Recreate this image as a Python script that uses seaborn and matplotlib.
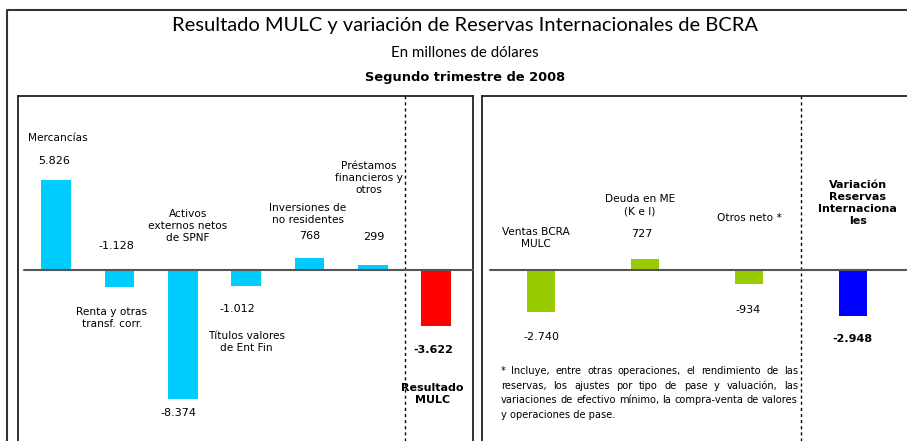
import matplotlib
matplotlib.use("Agg")
import matplotlib.pyplot as plt
from matplotlib.lines import Line2D
import seaborn as sns
import pandas as pd

# ---------------- data ----------------
left_categories = ["Mercancías", "Renta y otras transf. corr.", "Activos externos netos de SPNF",
                   "Títulos valores de Ent Fin", "Inversiones de no residentes",
                   "Préstamos financieros y otros", "Resultado MULC"]
left_values = [5826, -1128, -8374, -1012, 768, 299, -3622]
left_value_labels = ["5.826", "-1.128", "-8.374", "-1.012", "768", "299", "-3.622"]
left_cat_labels = ["Mercancías", "Renta y otras\ntransf. corr.", "Activos\nexternos netos\nde SPNF",
                   "Títulos valores\nde Ent Fin", "Inversiones de\nno residentes",
                   "Préstamos\nfinancieros y\notros", "Resultado\nMULC"]

right_categories = ["Ventas BCRA MULC", "Deuda en ME (K e I)", "Otros neto *",
                    "Variación Reservas Internacionales"]
right_values = [-2740, 727, -934, -2948]
right_value_labels = ["-2.740", "727", "-934", "-2.948"]
right_cat_labels = ["Ventas BCRA\nMULC", "Deuda en ME\n(K e I)", "Otros neto *",
                    "Variación\nReservas\nInternaciona\nles"]

title = "Resultado MULC y variación de Reservas Internacionales de BCRA"
subtitle = "En millones de dólares"
period = "Segundo trimestre de 2008"
footnote_lines = ["* Incluye, entre otras operaciones, el rendimiento de las",
                  "reservas, los ajustes por tipo de pase y valuación, las",
                  "variaciones de efectivo mínimo, la compra-venta de valores",
                  "y operaciones de pase."]

# ---------------- styles / layout ----------------
CYAN, RED, GREEN, BLUE = "#00CCFF", "#FF0000", "#99CC00", "#0000FF"
left_colors = [CYAN] * 6 + [RED]
right_colors = [GREEN] * 3 + [BLUE]

# label positions (x in category units, y in data units)
left_cat_pos = [(0.03, 8540), (0.88, -3106), (2.08, 2847), (3.0, -4658), (3.97, 3623), (4.93, 5952), (5.94, -8023)]
left_val_pos = [(-0.03, 7052), (0.96, 1553), (1.93, -9252), (2.86, -2523), (4.01, 2200), (5.01, 2135), (5.96, -5176)]
left_bold = [False] * 6 + [True]
right_cat_pos = [(-0.05, 2103), (0.95, 4206), (2.0, 3364), (3.05, 4335)]
right_val_pos = [(0.0, -4335), (0.97, 2329), (1.99, -2588), (3.0, -4464)]
right_bold = [False] * 3 + [True]

sns.set_theme(style="white")
plt.rcParams["font.family"] = ["DejaVu Sans"]
plt.rcParams["text.color"] = "black"

W, H = 907, 441
fig = plt.figure(figsize=(W / 100, H / 100), dpi=100)

YLIM = (-11065, 11260)
BODY = 7.6


def fx(px):
    return px / W


def fy(py):
    return (H - py) / H


def setup_axes(ax, xlim, zero_from, vline):
    ax.set_xlim(*xlim)
    ax.set_ylim(*YLIM)
    ax.set_xticks([])
    ax.set_yticks([])
    ax.set_xlabel("")
    ax.set_ylabel("")
    for s in ["left", "right", "top"]:
        ax.spines[s].set_visible(True)
        ax.spines[s].set_color("#222222")
        ax.spines[s].set_linewidth(1.3)
    ax.spines["bottom"].set_visible(False)
    ax.plot([zero_from, xlim[1]], [0, 0], color="#555555", lw=1.5, zorder=3, clip_on=False)
    ax.axvline(vline, color="black", ls=(0, (2.2, 2.2)), lw=1.0, zorder=1)


# ---------- left panel ----------
axL = fig.add_axes([fx(18), 0, fx(473 - 18), (H - 96) / H])
dfL = pd.DataFrame({"cat": left_categories, "val": left_values})
sns.barplot(data=dfL, x="cat", y="val", hue="cat", palette=left_colors, width=0.47,
            saturation=1, legend=False, ax=axL, linewidth=0, zorder=2)
setup_axes(axL, (-0.6, 6.58), -0.5, 5.5)
for lab, (x, y), b in zip(left_cat_labels, left_cat_pos, left_bold):
    axL.text(x, y, lab, ha="center", va="center", fontsize=8 if b else BODY,
             fontweight="bold" if b else "normal", linespacing=1.25, color="black")
for lab, (x, y), b in zip(left_value_labels, left_val_pos, left_bold):
    axL.text(x, y, lab, ha="center", va="center", fontsize=8,
             fontweight="bold" if b else "normal", color="black")

# ---------- right panel ----------
axR = fig.add_axes([fx(482), 0, fx(915 - 482), (H - 96) / H])
dfR = pd.DataFrame({"cat": right_categories, "val": right_values})
sns.barplot(data=dfR, x="cat", y="val", hue="cat", palette=right_colors, width=0.27,
            saturation=1, legend=False, ax=axR, linewidth=0, zorder=2)
setup_axes(axR, (-0.573, 3.6), -0.5, 2.5)
for lab, (x, y), b in zip(right_cat_labels, right_cat_pos, right_bold):
    axR.text(x, y, lab, ha="center", va="center", fontsize=8 if b else BODY,
             fontweight="bold" if b else "normal", linespacing=1.25, color="black")
for lab, (x, y), b in zip(right_value_labels, right_val_pos, right_bold):
    axR.text(x, y, lab, ha="center", va="center", fontsize=8,
             fontweight="bold" if b else "normal", color="black")

# ---------- footnote (justified) ----------
fig.canvas.draw()
renderer = fig.canvas.get_renderer()
fn_left, fn_right = 501, 798
fn_ys = [371, 386, 400, 415]
FN = 7.1
for i, (line, py) in enumerate(zip(footnote_lines, fn_ys)):
    if i == len(footnote_lines) - 1:
        fig.text(fx(fn_left), fy(py), line, ha="left", va="center", fontsize=FN)
        continue
    words = line.split(" ")
    texts = [fig.text(0, fy(py), w, ha="left", va="center", fontsize=FN) for w in words]
    widths = [t.get_window_extent(renderer).width for t in texts]
    gap = max((fn_right - fn_left - sum(widths)) / (len(words) - 1), 2.0)
    x = fn_left
    for t, w in zip(texts, widths):
        t.set_x(fx(x))
        x += w + gap

# ---------- titles ----------
fig.text(fx(465), fy(25), title, ha="center", va="center", fontsize=14.5, family="Lato")
fig.text(fx(465), fy(53), subtitle, ha="center", va="center", fontsize=10.8, family="Lato")
fig.text(fx(465), fy(77), period, ha="center", va="center", fontsize=9.4, fontweight="bold")

# ---------- outer frame ----------
fig.add_artist(Line2D([fx(7), fx(7), fx(W)], [0, fy(10), fy(10)], color="#333333", lw=1.5,
                      transform=fig.transFigure))

fig.savefig("out.png", dpi=100)
